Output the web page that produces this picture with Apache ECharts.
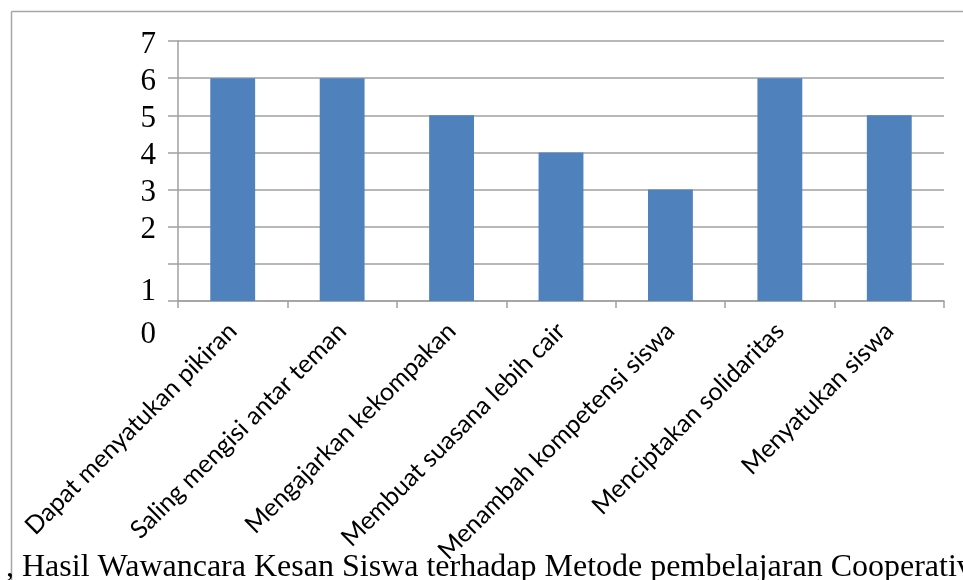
<!DOCTYPE html>
<html>
<head>
<meta charset="utf-8">
<script src="https://cdn.jsdelivr.net/npm/echarts@6/dist/echarts.min.js"></script>
<style>html,body{margin:0;padding:0;background:#fff;}#c{width:963px;height:580px;}</style>
</head>
<body>
<div id="c"></div>
<script>
var categories = ['Dapat menyatukan pikiran','Saling mengisi antar teman','Mengajarkan kekompakan','Membuat suasana lebih cair','Menambah kompetensi siswa','Menciptakan solidaritas','Menyatukan siswa'];
var values = [6, 6, 5, 4, 3, 6, 5];
var yTicks = [0, 1, 2, 3, 4, 5, 6, 7];
var caption = ', Hasil Wawancara Kesan Siswa terhadap Metode pembelajaran Cooperativ';

var chart = echarts.init(document.getElementById('c'), null, {renderer: 'canvas'});
chart.setOption({
  animation: false,
  backgroundColor: '#fff',
  title: {
    text: caption, left: 1, top: 547,
    textStyle: {fontFamily: 'Liberation Serif', fontSize: 32, fontWeight: 'normal', color: '#000', lineHeight: 32}
  },
  graphic: [
    {type: 'line', shape: {x1: 11.5, y1: 11.5, x2: 963, y2: 11.5}, style: {stroke: '#a6a6a6', lineWidth: 1.5}},
    {type: 'line', shape: {x1: 11.5, y1: 11.5, x2: 11.5, y2: 580}, style: {stroke: '#a6a6a6', lineWidth: 1.5}}
  ],
  grid: {left: 178, right: 19, top: 41, bottom: 279, containLabel: false},
  xAxis: {
    type: 'category', data: categories,
    axisLine: {lineStyle: {color: '#a0a0a0', width: 1.5}},
    axisTick: {show: true, alignWithLabel: false, length: 7, lineStyle: {color: '#a0a0a0', width: 1.5}},
    axisLabel: {interval: 0, rotate: 45, margin: 26, color: '#000', fontFamily: 'Lato', fontSize: 25}
  },
  yAxis: {
    type: 'value', min: 0, max: 7, interval: 1,
    axisLine: {show: true, lineStyle: {color: '#a0a0a0', width: 1.5}},
    axisTick: {show: true, length: 10, lineStyle: {color: '#a0a0a0', width: 1.5}},
    splitLine: {show: true, lineStyle: {color: '#a0a0a0', width: 1.5}},
    axisLabel: {
      margin: 22, color: '#000', fontFamily: 'Liberation Serif', fontSize: 31,
      customValues: yTicks,
      formatter: function (v) {
        if (v === 0) return '{z|' + v + '}';
        if (v === 1) return '{o|' + v + '}';
        return '{n|' + v + '}';
      },
      rich: {
        z: {fontFamily: 'Liberation Serif', fontSize: 31, color: '#000', padding: [68, 0, 0, 0]},
        o: {fontFamily: 'Liberation Serif', fontSize: 31, color: '#000', padding: [56, 0, 0, 0]},
        n: {fontFamily: 'Liberation Serif', fontSize: 31, color: '#000', padding: [7, 0, 0, 0]}
      }
    }
  },
  series: [{
    type: 'bar', data: values, barWidth: '41%',
    itemStyle: {color: '#4f81bd'}
  }]
});
</script>
</body>
</html>
